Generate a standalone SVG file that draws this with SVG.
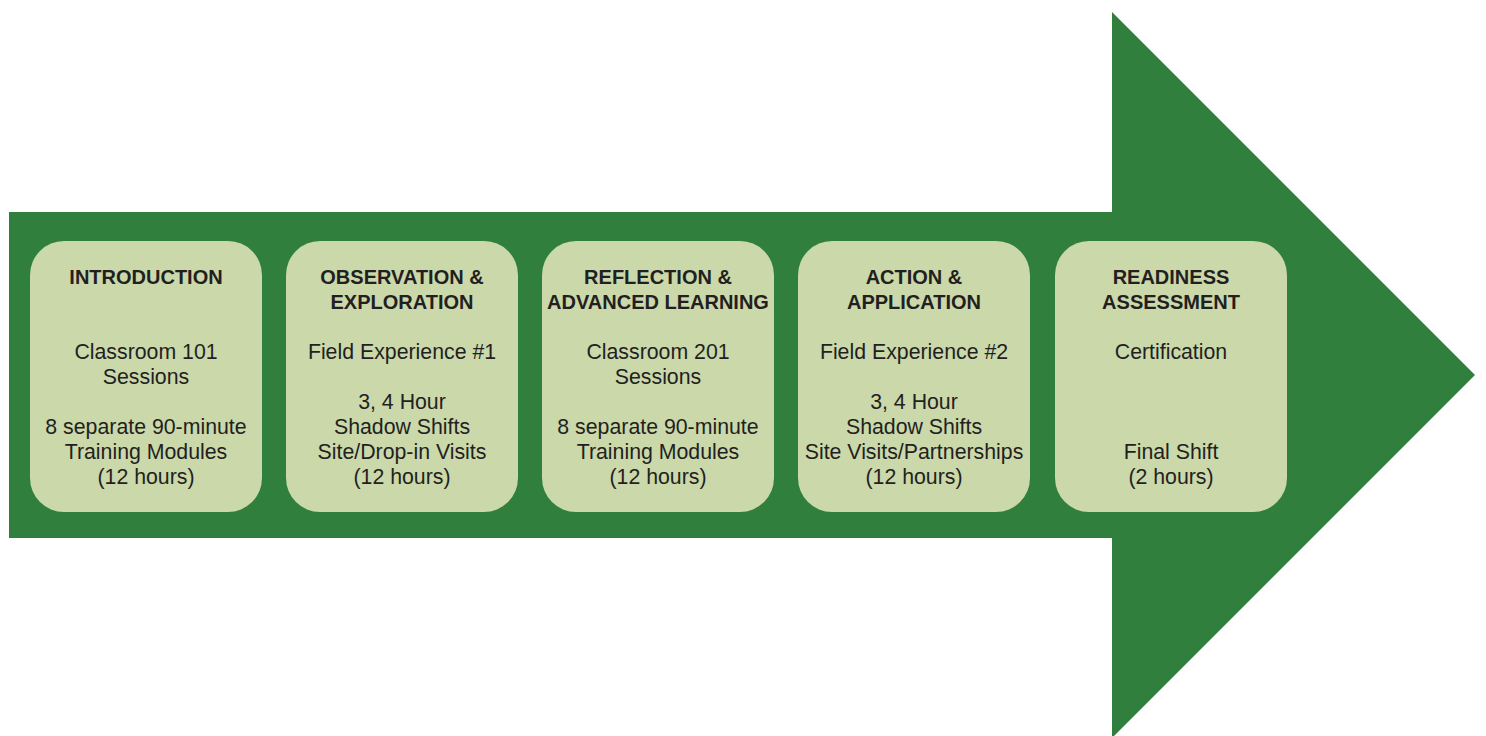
<svg xmlns="http://www.w3.org/2000/svg" width="1486" height="736" viewBox="0 0 1486 736">
  <style>
    .stage { fill: #cad8aa; }
    .title { font-family: "Liberation Sans", Arial, sans-serif; font-size: 20px; font-weight: bold; fill: #231f20; text-anchor: middle; }
    .body { font-family: "Liberation Sans", Arial, sans-serif; font-size: 21.3px; fill: #231f20; text-anchor: middle; }
  </style>
  <rect width="1486" height="736" fill="#ffffff"/>

  <!-- big progress arrow -->
  <g id="connectors">
    <polygon points="9,212 1112,212 1112,12 1475,375 1112,738 1112,538 9,538" fill="#317f3d"/>
  </g>

  <g id="introduction">
    <rect class="stage" x="30" y="241" width="232" height="271" rx="34" ry="34"/>
    <text class="title" x="146" y="284">INTRODUCTION</text>
    <text class="body" x="146" y="359">Classroom 101</text>
    <text class="body" x="146" y="384">Sessions</text>
    <text class="body" x="146" y="434">8 separate 90-minute</text>
    <text class="body" x="146" y="459">Training Modules</text>
    <text class="body" x="146" y="484">(12 hours)</text>
  </g>

  <g id="observation">
    <rect class="stage" x="286" y="241" width="232" height="271" rx="34" ry="34"/>
    <text class="title" x="402" y="284">OBSERVATION &amp;</text>
    <text class="title" x="402" y="309">EXPLORATION</text>
    <text class="body" x="402" y="359">Field Experience #1</text>
    <text class="body" x="402" y="409">3, 4 Hour</text>
    <text class="body" x="402" y="434">Shadow Shifts</text>
    <text class="body" x="402" y="459">Site/Drop-in Visits</text>
    <text class="body" x="402" y="484">(12 hours)</text>
  </g>

  <g id="reflection">
    <rect class="stage" x="542" y="241" width="232" height="271" rx="34" ry="34"/>
    <text class="title" x="658" y="284">REFLECTION &amp;</text>
    <text class="title" x="658" y="309">ADVANCED LEARNING</text>
    <text class="body" x="658" y="359">Classroom 201</text>
    <text class="body" x="658" y="384">Sessions</text>
    <text class="body" x="658" y="434">8 separate 90-minute</text>
    <text class="body" x="658" y="459">Training Modules</text>
    <text class="body" x="658" y="484">(12 hours)</text>
  </g>

  <g id="action">
    <rect class="stage" x="798" y="241" width="232" height="271" rx="34" ry="34"/>
    <text class="title" x="914" y="284">ACTION &amp;</text>
    <text class="title" x="914" y="309">APPLICATION</text>
    <text class="body" x="914" y="359">Field Experience #2</text>
    <text class="body" x="914" y="409">3, 4 Hour</text>
    <text class="body" x="914" y="434">Shadow Shifts</text>
    <text class="body" x="914" y="459">Site Visits/Partnerships</text>
    <text class="body" x="914" y="484">(12 hours)</text>
  </g>

  <g id="readiness">
    <rect class="stage" x="1055" y="241" width="232" height="271" rx="34" ry="34"/>
    <text class="title" x="1171" y="284">READINESS</text>
    <text class="title" x="1171" y="309">ASSESSMENT</text>
    <text class="body" x="1171" y="359">Certification</text>
    <text class="body" x="1171" y="459">Final Shift</text>
    <text class="body" x="1171" y="484">(2 hours)</text>
  </g>
</svg>
